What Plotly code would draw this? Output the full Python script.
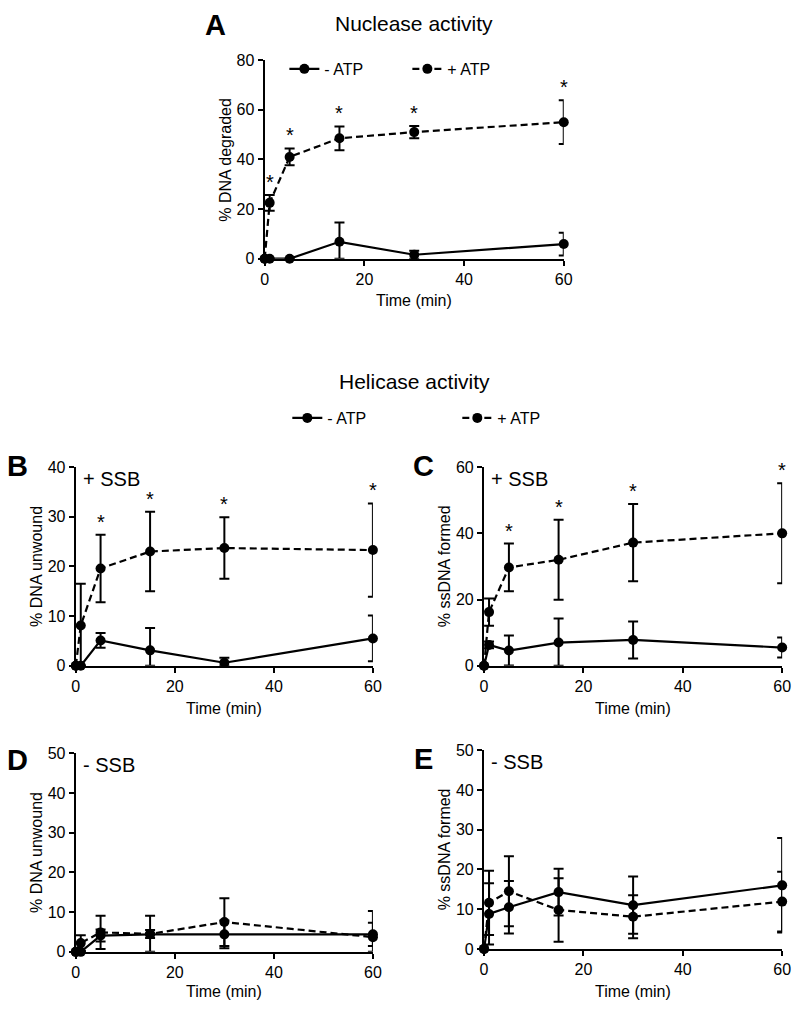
import numpy as np
import plotly.graph_objects as go

# ---------------- data ----------------
time_min = [0, 1, 5, 15, 30, 60]

# A: nuclease activity (% DNA degraded)
a_minus = [0, 0, 0, 6.8, 1.6, 5.9]
a_minus_err = [0, 0, 0, 7.8, 1.6, 4.6]
a_plus = [0, 22.5, 41.0, 48.5, 51.0, 55.0]
a_plus_err = [0, 3.2, 3.4, 4.8, 2.5, 8.8]
a_stars = [1, 5, 15, 30, 60]

# B: + SSB, % DNA unwound
b_minus = [0, 0, 5.1, 3.1, 0.6, 5.5]
b_minus_err = [0, 0, 1.5, 4.5, 1.0, 4.6]
b_plus = [0, 8.1, 19.6, 23.0, 23.7, 23.3]
b_plus_err = [0, 8.4, 6.8, 8.0, 6.2, 9.4]
b_stars = [5, 15, 30, 60]

# C: + SSB, % ssDNA formed
c_minus = [0, 6.3, 4.6, 7.0, 7.8, 5.5]
c_minus_err = [0, 1.0, 4.5, 7.3, 5.6, 3.0]
c_plus = [0, 16.2, 29.7, 32.0, 37.2, 40.0]
c_plus_err = [0, 4.1, 7.2, 12.1, 11.7, 15.1]
c_stars = [5, 15, 30, 60]

# D: - SSB, % DNA unwound
d_minus = [0, 0, 4.1, 4.4, 4.4, 4.4]
d_minus_err = [0, 0, 1.5, 4.7, 3.5, 2.9]
d_plus = [0, 2.2, 4.9, 4.5, 7.5, 3.7]
d_plus_err = [0, 2.0, 4.2, 1.0, 6.0, 6.6]

# E: - SSB, % ssDNA formed
e_minus = [0, 8.8, 10.5, 14.3, 11.0, 16.0]
e_minus_err = [0, 7.7, 6.6, 5.9, 7.2, 11.9]
e_plus = [0, 11.6, 14.5, 9.8, 8.1, 11.9]
e_plus_err = [0, 8.1, 8.8, 8.0, 5.4, 7.5]

x_ticks = [0, 20, 40, 60]
series_names = ["- ATP", "+ ATP"]

# ---------------- layout helpers ----------------
W, H = 800, 1010
FONT = "Liberation Sans, Arial, Helvetica, sans-serif"


def px(x):
    return x / W


def py(y):
    return 1 - y / H


panels = [
    dict(letter="A", x=(265, 569), y=(53, 255), ymax=80, dtick=20, ytitle="% DNA degraded",
         tag=None, lpos=(215, 17), data=(a_minus, a_minus_err, a_plus, a_plus_err), stars=a_stars,
         xtitle_y=297, legend="legend"),
    dict(letter="B", x=(73, 375), y=(467, 669), ymax=40, dtick=10, ytitle="% DNA unwound",
         tag="+ SSB", lpos=(14, 466), data=(b_minus, b_minus_err, b_plus, b_plus_err), stars=b_stars,
         xtitle_y=712, legend="legend2"),
    dict(letter="C", x=(488, 791), y=(467, 669), ymax=60, dtick=20, ytitle="% ssDNA formed",
         tag="+ SSB", lpos=(426, 466), data=(c_minus, c_minus_err, c_plus, c_plus_err), stars=c_stars,
         xtitle_y=712, legend=None),
    dict(letter="D", x=(73, 375), y=(758, 960), ymax=50, dtick=10, ytitle="% DNA unwound",
         tag="- SSB", lpos=(14, 765), data=(d_minus, d_minus_err, d_plus, d_plus_err), stars=[],
         xtitle_y=1000, legend=None),
    dict(letter="E", x=(488, 791), y=(755, 957), ymax=50, dtick=10, ytitle="% ssDNA formed",
         tag="- SSB", lpos=(426, 764), data=(e_minus, e_minus_err, e_plus, e_plus_err), stars=[],
         xtitle_y=1000, legend=None),
]

fig = go.Figure()
annotations = []
layout_axes = {}

for i, p in enumerate(panels, start=1):
    xa = "x" if i == 1 else f"x{i}"
    ya = "y" if i == 1 else f"y{i}"
    xkey = "xaxis" if i == 1 else f"xaxis{i}"
    ykey = "yaxis" if i == 1 else f"yaxis{i}"
    common = dict(showline=True, linecolor="black", linewidth=2.3, ticks="outside", ticklen=5,
                  tickwidth=2, tickcolor="black", showgrid=False, zeroline=False,
                  tickfont=dict(family=FONT, size=16, color="black"), layer="below traces",
                  fixedrange=True, ticklabeloverflow="allow")
    layout_axes[xkey] = dict(domain=[px(p["x"][0]), px(p["x"][1])], range=[0, 60], tickvals=x_ticks,
                             anchor=ya, **common)
    layout_axes[ykey] = dict(domain=[py(p["y"][1]), py(p["y"][0])], range=[0, p["ymax"]],
                             dtick=p["dtick"], tick0=0, anchor=xa, **common)

    minus, minus_err, plus, plus_err = p["data"]
    for vals, errs, dash, name in [(minus, minus_err, "solid", series_names[0]),
                                   (plus, plus_err, "7px,4px", series_names[1])]:
        fig.add_trace(go.Scatter(
            x=time_min, y=vals, mode="lines+markers", name=name,
            line=dict(color="black", width=2.2, dash=dash),
            marker=dict(color="black", size=10, symbol="circle"),
            error_y=dict(type="data", array=errs,
                         arrayminus=list(np.minimum(np.array(errs), np.array(vals))),
                         color="black", thickness=2, width=5),
            cliponaxis=False, xaxis=xa, yaxis=ya,
            showlegend=p["legend"] is not None,
            legend=p["legend"] if p["legend"] else "legend",
        ))

    # significance stars above + ATP error bars
    for t in p["stars"]:
        k = time_min.index(t)
        annotations.append(dict(x=t, y=plus[k] + plus_err[k], xref=xa, yref=ya, text="*",
                                showarrow=False, yanchor="bottom", yshift=0,
                                font=dict(family=FONT, size=20, color="black")))

    # panel letter
    annotations.append(dict(x=px(p["lpos"][0]), y=py(p["lpos"][1]), xref="paper", yref="paper",
                            text=p["letter"], showarrow=False, xanchor="center", yanchor="middle",
                            font=dict(family=FONT, size=29, color="black", weight="bold")))
    # y title
    annotations.append(dict(x=px(p["x"][0] - 40), y=py((p["y"][0] + p["y"][1]) / 2),
                            xref="paper", yref="paper", text=p["ytitle"], textangle=-90,
                            showarrow=False, xanchor="center", yanchor="middle",
                            font=dict(family=FONT, size=16, color="black")))
    # x title
    annotations.append(dict(x=px((p["x"][0] + p["x"][1]) / 2), y=py(p["xtitle_y"]),
                            xref="paper", yref="paper", text="Time (min)", showarrow=False,
                            xanchor="center", yanchor="middle",
                            font=dict(family=FONT, size=16, color="black")))
    # SSB tag
    if p["tag"]:
        annotations.append(dict(x=px(p["x"][0] + 5), y=py(p["y"][0] + 12), xref="paper",
                                yref="paper", text=p["tag"], showarrow=False, xanchor="left",
                                yanchor="middle", font=dict(family=FONT, size=20, color="black")))

# section titles
annotations.append(dict(x=px(417), y=py(16), xref="paper", yref="paper", text="Nuclease activity",
                        showarrow=False, xanchor="center", yanchor="middle",
                        font=dict(family=FONT, size=21, color="black")))
annotations.append(dict(x=px(417), y=py(380), xref="paper", yref="paper", text="Helicase activity",
                        showarrow=False, xanchor="center", yanchor="middle",
                        font=dict(family=FONT, size=21, color="black")))

fig.update_layout(
    width=W, height=H, margin=dict(l=0, r=0, t=0, b=0),
    paper_bgcolor="white", plot_bgcolor="white",
    font=dict(family=FONT, size=16, color="black"),
    annotations=annotations,
    legend=dict(orientation="h", x=px(285), y=py(62), xanchor="left", yanchor="middle",
                bgcolor="rgba(0,0,0,0)", font=dict(family=FONT, size=16, color="black"),
                entrywidth=78, itemwidth=30),
    legend2=dict(orientation="h", x=px(288), y=py(417), xanchor="left", yanchor="middle",
                 bgcolor="rgba(0,0,0,0)", font=dict(family=FONT, size=16, color="black"),
                 entrywidth=125, itemwidth=30),
    **layout_axes,
)

# remove the default page margin so the figure fills the 800x1010 window exactly
fig.write_html("out.html", config={"displayModeBar": False},
               post_script="document.body.style.margin='0';")
